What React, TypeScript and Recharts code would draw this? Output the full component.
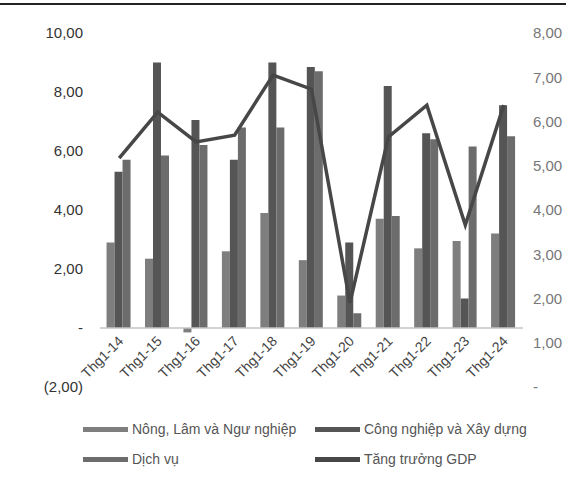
import { ComposedChart, Bar, Line, XAxis, YAxis, Legend, ReferenceLine } from 'recharts';

// Tăng trưởng theo quý 1 các năm (%)
const categories = ['Thg1-14', 'Thg1-15', 'Thg1-16', 'Thg1-17', 'Thg1-18', 'Thg1-19', 'Thg1-20', 'Thg1-21', 'Thg1-22', 'Thg1-23', 'Thg1-24'];
const nongLamNgu = [2.9, 2.35, -0.15, 2.6, 3.9, 2.3, 1.1, 3.7, 2.7, 2.95, 3.2];
const congNghiep = [5.3, 9.0, 7.05, 5.7, 9.0, 8.85, 2.9, 8.2, 6.6, 1.0, 7.55];
const dichVu = [5.7, 5.85, 6.2, 6.8, 6.8, 8.7, 0.5, 3.8, 6.4, 6.15, 6.5];
const tangTruongGdp = [5.17, 6.21, 5.54, 5.69, 7.05, 6.73, 1.9, 5.65, 6.37, 3.66, 6.37];

const seriesNames = ['Nông, Lâm và Ngư nghiệp', 'Công nghiệp và Xây dựng', 'Dịch vụ', 'Tăng trưởng GDP'];

const leftTicks = [-2, 0, 2, 4, 6, 8, 10];
const rightTicks = [0, 1, 2, 3, 4, 5, 6, 7, 8];

const data = categories.map((name, i) => ({
  name,
  nong: nongLamNgu[i],
  cn: congNghiep[i],
  dv: dichVu[i],
  gdp: tangTruongGdp[i],
}));

const FONT = '"Liberation Sans", Arial, sans-serif';

// so kiểu Excel: 2,00 / - / (2,00)
const fmt = (v: number) => {
  if (v === 0) return '-';
  const s = Math.abs(v).toFixed(2).replace('.', ',');
  return v < 0 ? `(${s})` : s;
};

// nhãn trục X nằm ngay dưới đường 0 (khoảng cách từ đáy trục -2 lên 0)
const ZERO_SHIFT = 59;

function CategoryTick(props: any) {
  const { x, y, payload } = props;
  const ty = y - ZERO_SHIFT + 12;
  return (
    <text
      x={x + 5}
      y={ty}
      textAnchor="end"
      fontSize={14}
      fill="#444"
      fontFamily={FONT}
      transform={`rotate(-45, ${x + 5}, ${ty})`}
    >
      {payload.value}
    </text>
  );
}

function LegendBox(props: any) {
  const items = [...(props.payload || [])].sort(
    (a: any, b: any) => seriesNames.indexOf(a.value) - seriesNames.indexOf(b.value)
  );
  return (
    <div
      style={{
        display: 'grid',
        gridTemplateColumns: '232px 240px',
        rowGap: 12,
        paddingLeft: 83,
        paddingTop: 2,
        fontFamily: FONT,
        fontSize: 14,
        color: '#555',
      }}
    >
      {items.map((it: any) => (
        <div key={it.value} style={{ display: 'flex', alignItems: 'center', height: 18 }}>
          <span style={{ display: 'inline-block', width: 45, height: 5, background: it.color, marginRight: 4 }} />
          <span style={{ whiteSpace: 'nowrap' }}>{it.value}</span>
        </div>
      ))}
    </div>
  );
}

export default function App() {
  return (
    <div style={{ position: 'absolute', left: 0, top: 0, width: 566, height: 488, background: '#fff', overflow: 'hidden' }}>
      <div style={{ position: 'absolute', left: 0, top: 3, width: 566, height: 2, background: '#222' }} />
      <ComposedChart
        width={566}
        height={488}
        data={data}
        margin={{ top: 33, right: 0, bottom: 0, left: 0 }}
        barCategoryGap="17%"
        barGap={0}
      >
        <XAxis
          dataKey="name"
          height={31}
          axisLine={false}
          tickLine={false}
          tickSize={0}
          interval={0}
          tick={<CategoryTick />}
        />
        <YAxis
          yAxisId="left"
          width={100}
          domain={[-2, 10]}
          ticks={leftTicks}
          tickFormatter={fmt}
          axisLine={false}
          tickLine={false}
          tickSize={0}
          tickMargin={17}
          tick={{ fill: '#333', fontSize: 15, fontFamily: FONT }}
        />
        <YAxis
          yAxisId="right"
          orientation="right"
          width={43}
          domain={[0, 8]}
          ticks={rightTicks}
          tickFormatter={fmt}
          axisLine={false}
          tickLine={false}
          tickSize={0}
          tickMargin={10}
          tick={{ fill: '#777', fontSize: 15, fontFamily: FONT }}
        />
        <ReferenceLine yAxisId="left" y={0} stroke="#c4c4c4" strokeWidth={1.5} />
        <Bar yAxisId="left" dataKey="nong" name={seriesNames[0]} fill="#7e7e7e" isAnimationActive={false} />
        <Bar yAxisId="left" dataKey="cn" name={seriesNames[1]} fill="#555555" isAnimationActive={false} />
        <Bar yAxisId="left" dataKey="dv" name={seriesNames[2]} fill="#6c6c6c" isAnimationActive={false} />
        <Line
          yAxisId="right"
          type="linear"
          dataKey="gdp"
          name={seriesNames[3]}
          stroke="#474747"
          strokeWidth={3.5}
          dot={false}
          isAnimationActive={false}
        />
        <Legend verticalAlign="bottom" height={70} content={<LegendBox />} wrapperStyle={{ left: 0, width: 566 }} />
      </ComposedChart>
    </div>
  );
}
